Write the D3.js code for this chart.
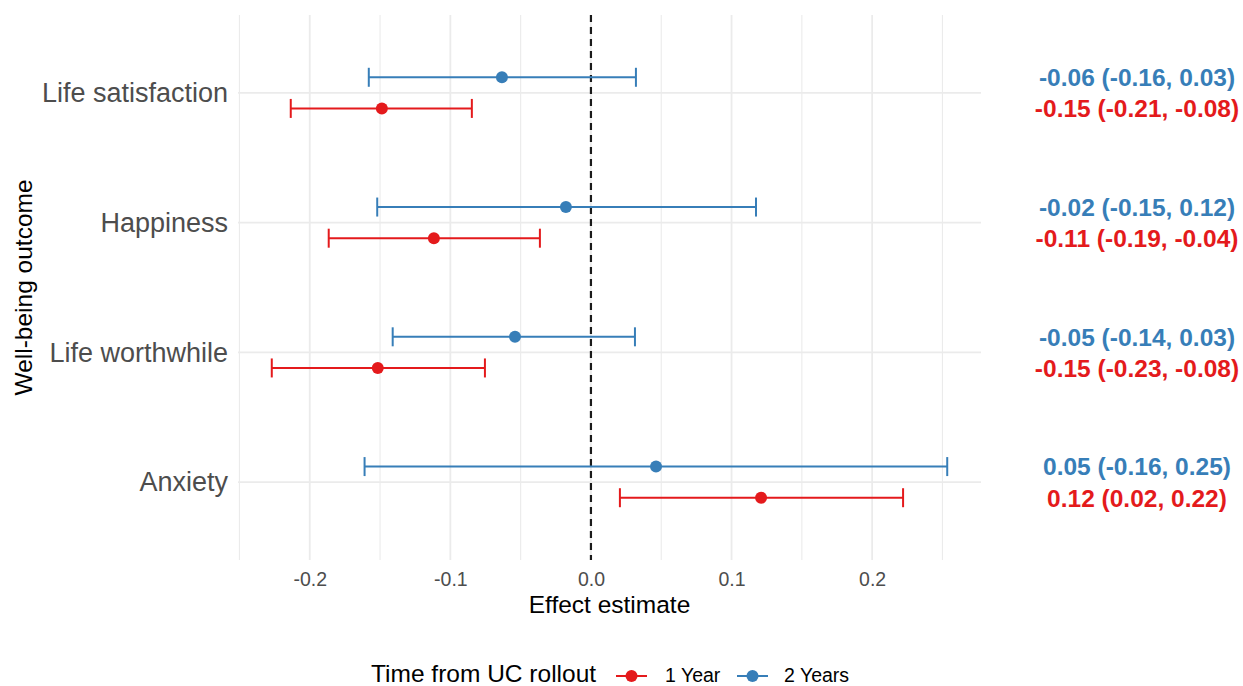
<!DOCTYPE html>
<html>
<head>
<meta charset="utf-8">
<script src="https://cdn.jsdelivr.net/npm/d3@7"></script>
<style>
  html, body { margin: 0; padding: 0; background: #fff; }
  svg { display: block; font-family: "Liberation Sans", Arial, Helvetica, sans-serif; }
</style>
</head>
<body>
<svg id="chart" width="1243" height="686"></svg>
<script>
// Well-being outcomes, top to bottom
const outcomes = ["Life satisfaction", "Happiness", "Life worthwhile", "Anxiety"];

// Effect estimates with 95% intervals, one year after rollout
const est1Year = [-0.1487, -0.1117, -0.1516, 0.1210];
const lo1Year  = [-0.2135, -0.1865, -0.2270, 0.0206];
const hi1Year  = [-0.0847, -0.0363, -0.0754, 0.2220];

// Effect estimates with 95% intervals, two years after rollout
const est2Years = [-0.0633, -0.0178, -0.0540, 0.0463];
const lo2Years  = [-0.1580, -0.1520, -0.1410, -0.1610];
const hi2Years  = [0.0320, 0.1174, 0.0313, 0.2534];

const seriesNames = ["1 Year", "2 Years"];
const seriesColors = ["#E41A1C", "#377EB8"];
const xTicks = [-0.2, -0.1, 0.0, 0.1, 0.2];
const xMinorTicks = [-0.25, -0.15, -0.05, 0.05, 0.15, 0.25];

const svg = d3.select("#chart");
const panel = { left: 238, right: 981, top: 15, bottom: 560 };

const loc = d3.formatLocale({ decimal: ".", thousands: ",", grouping: [3], currency: ["", ""], minus: "-" });
const fmt2 = loc.format(".2f");
const fmt1 = loc.format(".1f");

// Build rows per outcome and series
const rows = [];
outcomes.forEach((o, i) => {
  rows.push({ outcome: o, series: 0, est: est1Year[i], lo: lo1Year[i], hi: hi1Year[i] });
  rows.push({ outcome: o, series: 1, est: est2Years[i], lo: lo2Years[i], hi: hi2Years[i] });
});

// x domain: data range plus 5% on each side
const xmin = d3.min(rows, d => d.lo), xmax = d3.max(rows, d => d.hi);
const pad = (xmax - xmin) * 0.05;
const x = d3.scaleLinear().domain([xmin - pad, xmax + pad]).range([panel.left, panel.right]);

const y = d3.scalePoint().domain(outcomes).range([panel.top, panel.bottom]).padding(0.6);
const dodge = y.step() * 0.12;
const yPos = d => y(d.outcome) + (d.series === 1 ? -dodge : dodge);

const grid = svg.append("g");
// minor vertical grid
grid.selectAll("line.minor").data(xMinorTicks).join("line")
  .attr("x1", d => x(d)).attr("x2", d => x(d))
  .attr("y1", panel.top).attr("y2", panel.bottom)
  .attr("stroke", "#EBEBEB").attr("stroke-width", 1.1);
// major vertical grid
grid.selectAll("line.major").data(xTicks).join("line")
  .attr("x1", d => x(d)).attr("x2", d => x(d))
  .attr("y1", panel.top).attr("y2", panel.bottom)
  .attr("stroke", "#EBEBEB").attr("stroke-width", 1.8);
// horizontal grid at outcomes
grid.selectAll("line.h").data(outcomes).join("line")
  .attr("x1", panel.left).attr("x2", panel.right)
  .attr("y1", d => y(d)).attr("y2", d => y(d))
  .attr("stroke", "#EBEBEB").attr("stroke-width", 1.8);

// reference line at zero
svg.append("line")
  .attr("x1", x(0)).attr("x2", x(0))
  .attr("y1", panel.top).attr("y2", panel.bottom)
  .attr("stroke", "#1a1a1a").attr("stroke-width", 2.2)
  .attr("stroke-dasharray", "7,5");

// error bars
const capH = 9.5;
const bars = svg.append("g").selectAll("g").data(rows).join("g")
  .attr("stroke", d => seriesColors[d.series]).attr("stroke-width", 2);
bars.append("line")
  .attr("x1", d => x(d.lo)).attr("x2", d => x(d.hi))
  .attr("y1", yPos).attr("y2", yPos);
bars.append("line")
  .attr("x1", d => x(d.lo)).attr("x2", d => x(d.lo))
  .attr("y1", d => yPos(d) - capH).attr("y2", d => yPos(d) + capH);
bars.append("line")
  .attr("x1", d => x(d.hi)).attr("x2", d => x(d.hi))
  .attr("y1", d => yPos(d) - capH).attr("y2", d => yPos(d) + capH);

// point estimates
svg.append("g").selectAll("circle").data(rows).join("circle")
  .attr("cx", d => x(d.est)).attr("cy", yPos).attr("r", 6)
  .attr("fill", d => seriesColors[d.series]);

// estimate labels on the right
svg.append("g").selectAll("text").data(rows).join("text")
  .attr("x", 1137).attr("y", yPos).attr("dy", "0.36em")
  .attr("text-anchor", "middle")
  .attr("font-size", 24.5).attr("font-weight", "bold")
  .attr("fill", d => seriesColors[d.series])
  .text(d => `${fmt2(d.est)} (${fmt2(d.lo)}, ${fmt2(d.hi)})`);

// x axis tick labels
const xAxis = d3.axisBottom(x).tickValues(xTicks).tickFormat(fmt1).tickSize(0).tickPadding(12);
const gx = svg.append("g").attr("transform", `translate(0,${panel.bottom})`).call(xAxis);
gx.select(".domain").remove();
gx.selectAll("text").attr("font-size", 19.5).attr("fill", "#4D4D4D")
  .attr("font-family", "'Liberation Sans', Arial, sans-serif");

// y axis labels
const yAxis = d3.axisLeft(y).tickSize(0).tickPadding(10);
const gy = svg.append("g").attr("transform", `translate(${panel.left},0)`).call(yAxis);
gy.select(".domain").remove();
gy.selectAll("text").attr("font-size", 27).attr("fill", "#4D4D4D")
  .attr("font-family", "'Liberation Sans', Arial, sans-serif");

// axis titles
svg.append("text")
  .attr("x", (panel.left + panel.right) / 2).attr("y", 613)
  .attr("text-anchor", "middle").attr("font-size", 24.5).attr("fill", "#000")
  .text("Effect estimate");
svg.append("text")
  .attr("transform", `translate(32,${(panel.top + panel.bottom) / 2}) rotate(-90)`)
  .attr("text-anchor", "middle").attr("font-size", 24.5).attr("fill", "#000")
  .text("Well-being outcome");

// legend
const legend = svg.append("g");
legend.append("text").attr("x", 371).attr("y", 682)
  .attr("font-size", 24.5).attr("fill", "#000").text("Time from UC rollout");
const keyX = [616, 737];
const labelX = [665, 784];
seriesNames.forEach((name, i) => {
  legend.append("line")
    .attr("x1", keyX[i]).attr("x2", keyX[i] + 31)
    .attr("y1", 676).attr("y2", 676)
    .attr("stroke", seriesColors[i]).attr("stroke-width", 2);
  legend.append("circle")
    .attr("cx", keyX[i] + 15.5).attr("cy", 676).attr("r", 6)
    .attr("fill", seriesColors[i]);
  legend.append("text").attr("x", labelX[i]).attr("y", 682)
    .attr("font-size", 19.5).attr("fill", "#000").text(name);
});
</script>
</body>
</html>
